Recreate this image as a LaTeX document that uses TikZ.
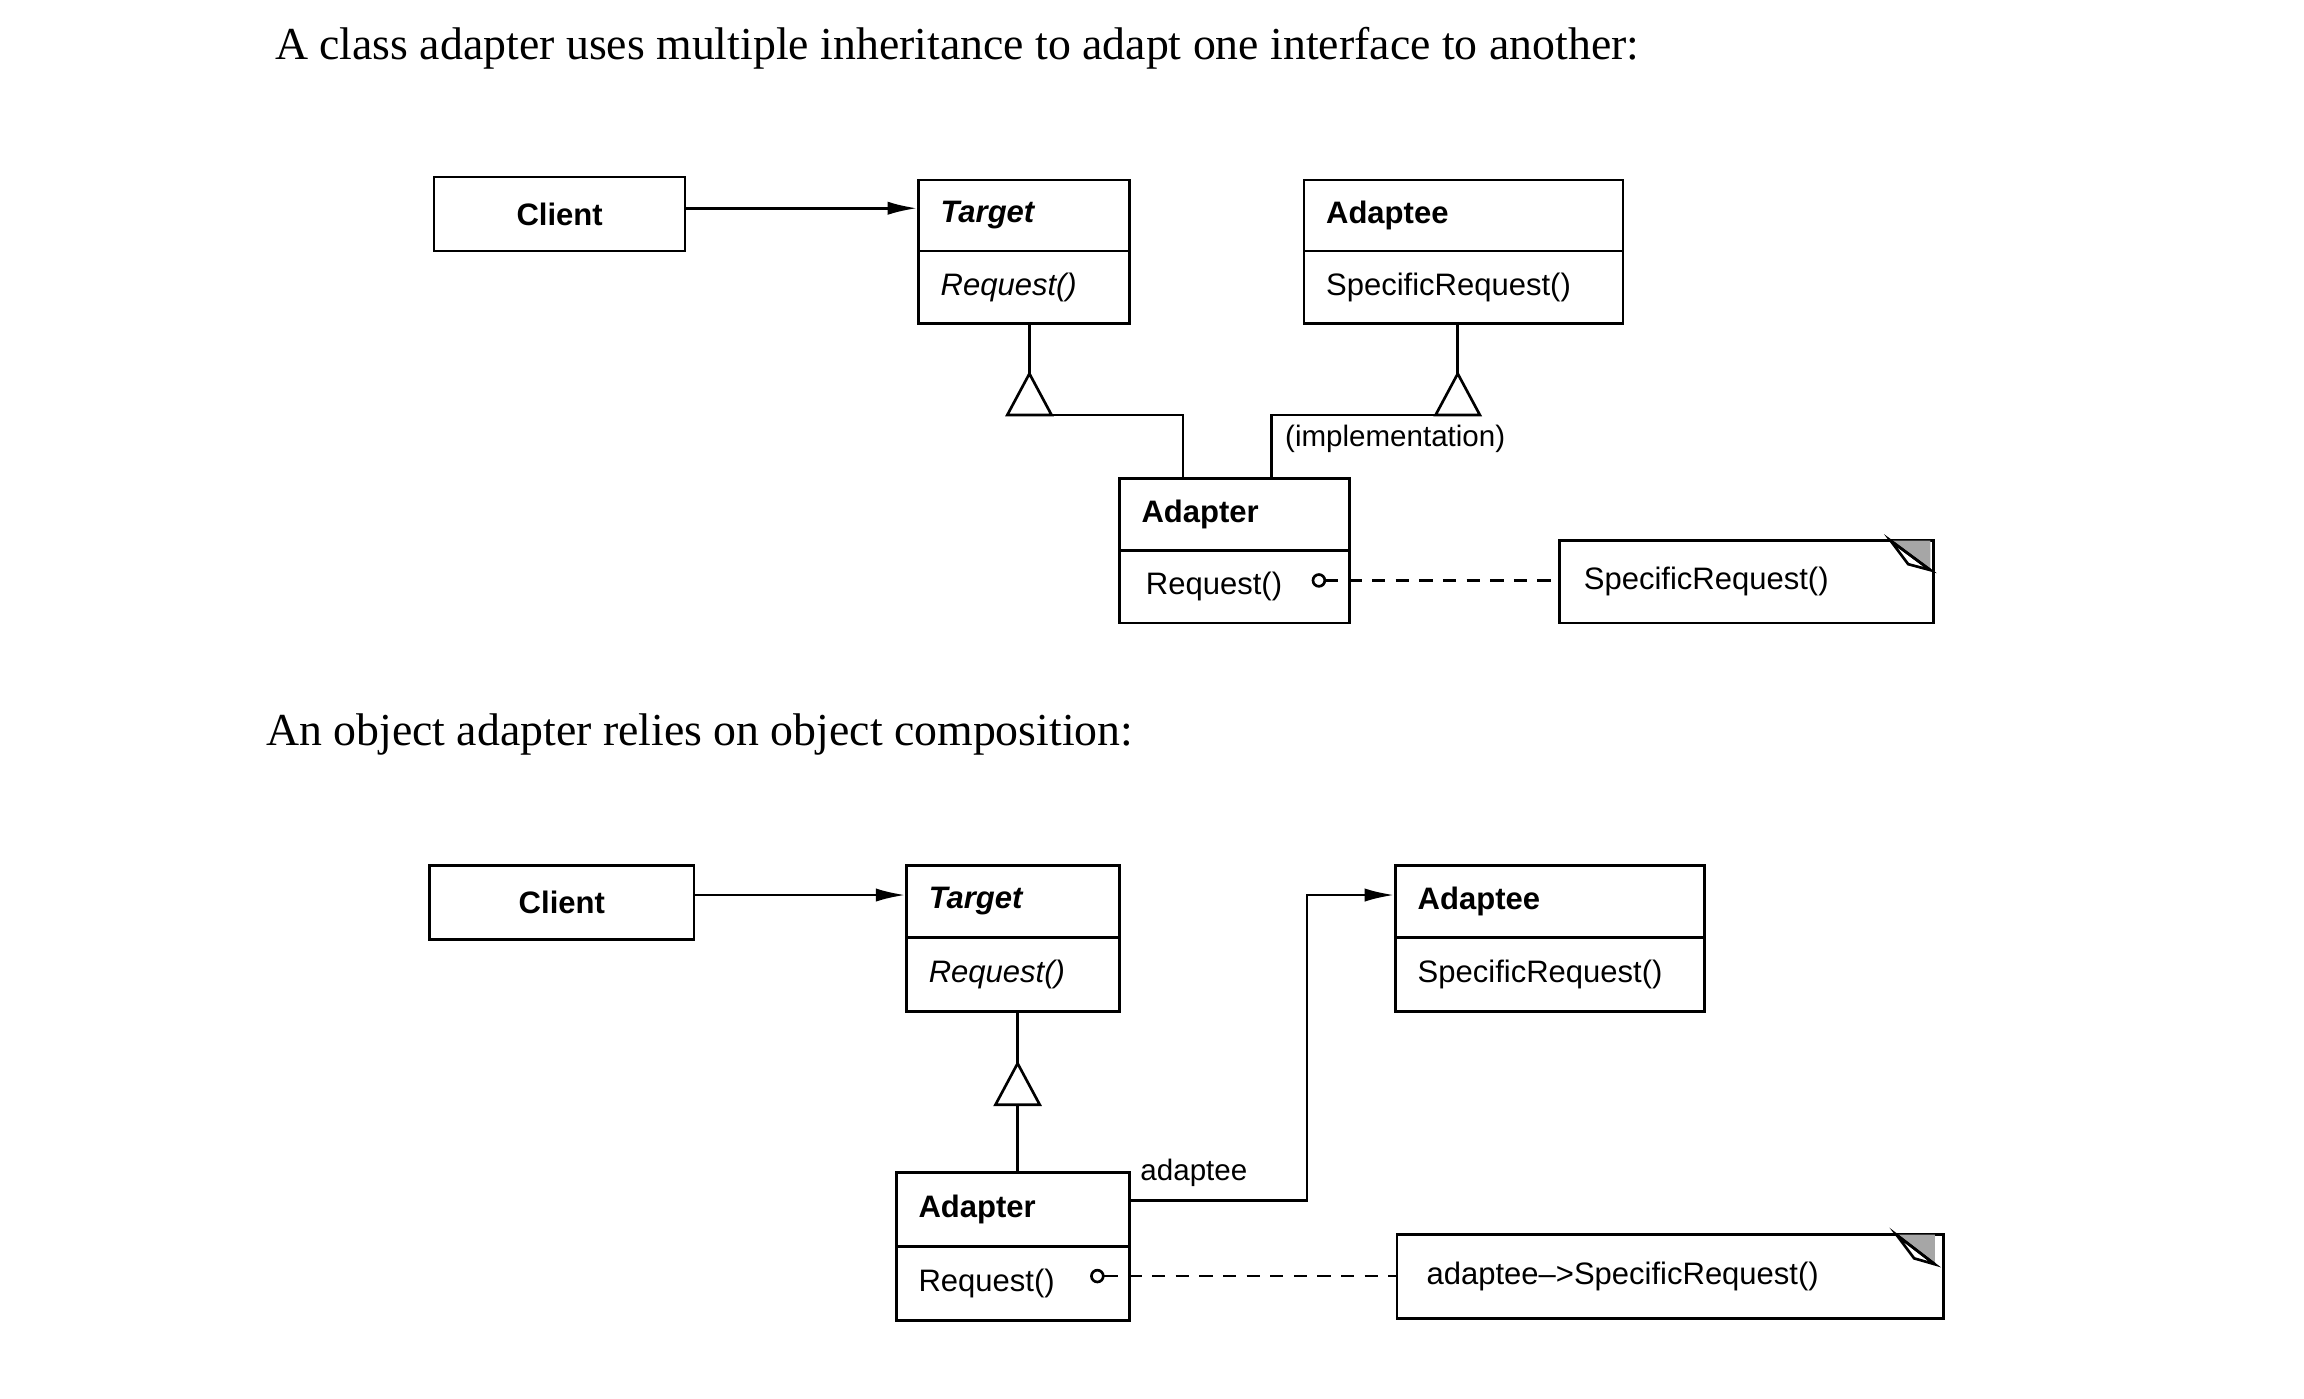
\documentclass[tikz,border=0pt]{standalone}
\usepackage{fontspec}
\setmainfont{Liberation Serif}
\setsansfont{Liberation Sans}
\usetikzlibrary{arrows.meta}
\begin{document}
\begin{tikzpicture}[x=1pt,y=-1pt,
  lw/.style={line width=1.8pt},
  cell/.style={draw,lw,rectangle,anchor=north west,inner xsep=15pt,inner ysep=0pt,align=left,font=\sffamily\fontsize{21}{24}\selectfont},
  hd/.style={cell,font=\sffamily\bfseries\fontsize{21}{24}\selectfont},
  arr/.style={lw,-{Latex[length=20pt,width=9pt]}},
  dsh/.style={lw,dash pattern=on 9pt off 7pt},
  tri/.style={lw,fill=white},
  title/.style={anchor=west,inner sep=0pt,font=\fontsize{31}{36}\selectfont}]
\useasboundingbox (0,0) rectangle (1560,947);
% titles
\node[title] (t1) at (186,33) {A class adapter uses multiple inheritance to adapt one interface to another:};
\node[title] (t2) at (180,497) {An object adapter relies on object composition:};
% ---------- top ----------
\node[hd,align=center,minimum width=170,minimum height=50,text width=140] (cl1) at (293,119) {Client};
\node[hd,minimum width=143,minimum height=48,text width=113] (tg1h) at (621,121) {\itshape Target};
\node[cell,minimum width=143,minimum height=49,text width=113] (tg1b) at (621,169) {\itshape Request()};
\node[hd,minimum width=216,minimum height=48,text width=186] (ad1h) at (882,121) {Adaptee};
\node[cell,minimum width=216,minimum height=49,text width=186] (ad1b) at (882,169) {SpecificRequest()};
\node[hd,minimum width=156,minimum height=49,text width=126] (ap1h) at (757,323) {Adapter};
\node[cell,minimum width=156,minimum height=49,text width=126,inner xsep=18pt,text width=120] (ap1b) at (757,372) {Request()};
\draw[arr] (cl1.east |- 0,141) -- (tg1h.west |- 0,141);
% inheritance to Target
\coordinate (ta1) at (697,253);
\draw[lw] (697,218) -- (ta1);
\draw[tri] (ta1) -- (712,281) -- (682,281) -- cycle;
\draw[lw] (697,281) -- (801,281) -- (801,323);
% inheritance to Adaptee
\coordinate (ta2) at (987,253);
\draw[lw] (987,218) -- (ta2);
\draw[tri] (ta2) -- (1002,281) -- (972,281) -- cycle;
\draw[lw] (987,281) -- (861,281) -- (861,323);
\node[anchor=west,inner sep=0pt,font=\sffamily\fontsize{20}{24}\selectfont] (impl) at (870,297) {(implementation)};
% note 1
\node[cell,minimum width=253,minimum height=56,text width=220,inner xsep=16pt] (n1) at (1055,365) {SpecificRequest()};
\fill[gray!70] (1280,366) -- (1307,366) -- (1307,386) -- cycle;
\draw[lw,fill=white] (1280,366) -- (1292,382) -- (1307,386) -- cycle;
\draw[lw] (1280,366) -- (1307,386);
\draw[lw] (893,393) circle (4);
\draw[lw] (897,393) -- (906,393);
\draw[dsh] (913,393) -- (n1.west |- 0,393);
% ---------- bottom ----------
\node[hd,align=center,minimum width=179,minimum height=50,text width=149] (cl2) at (290,585) {Client};
\node[hd,minimum width=144,minimum height=49,text width=114] (tg2h) at (613,585) {\itshape Target};
\node[cell,minimum width=144,minimum height=50,text width=114] (tg2b) at (613,634) {\itshape Request()};
\node[hd,minimum width=209,minimum height=49,text width=179] (ad2h) at (944,585) {Adaptee};
\node[cell,minimum width=209,minimum height=50,text width=179] (ad2b) at (944,634) {SpecificRequest()};
\node[hd,minimum width=158,minimum height=50,text width=128] (ap2h) at (606,793) {Adapter};
\node[cell,minimum width=158,minimum height=50,text width=128] (ap2b) at (606,843) {Request()};
\draw[arr] (cl2.east |- 0,606) -- (tg2h.west |- 0,606);
\coordinate (ta3) at (689,720);
\draw[lw] (689,684) -- (ta3);
\draw[tri] (ta3) -- (704,748) -- (674,748) -- cycle;
\draw[lw] (689,748) -- (689,793);
\draw[arr] (764,813) -- (885,813) -- (885,606) -- (ad2h.west |- 0,606);
\node[anchor=west,inner sep=0pt,font=\sffamily\fontsize{20}{24}\selectfont] (lab) at (772,794) {adaptee};
% note 2
\node[cell,minimum width=366,minimum height=57,text width=330,inner xsep=20pt] (n2) at (945,835) {adaptee--{}>SpecificRequest()};
\fill[gray!70] (1284,836) -- (1310,836) -- (1310,856) -- cycle;
\draw[lw,fill=white] (1284,836) -- (1296,852) -- (1310,856) -- cycle;
\draw[lw] (1284,836) -- (1310,856);
\draw[lw] (743,864) circle (4);
\draw[lw] (747,864) -- (757,864);
\draw[dsh] (764,864) -- (n2.west |- 0,864);
\end{tikzpicture}
\end{document}
